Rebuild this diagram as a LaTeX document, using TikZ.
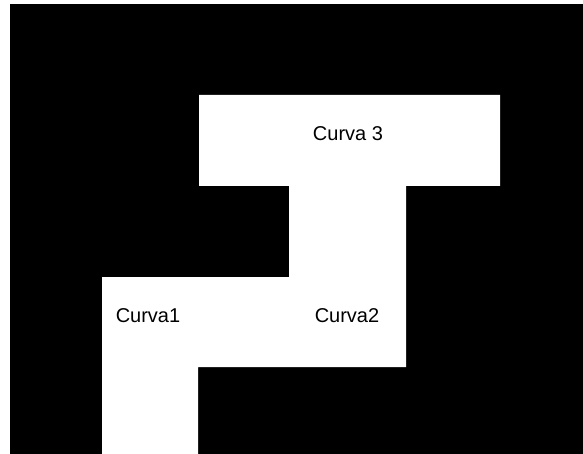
\documentclass[tikz,border=0pt]{standalone}
\usepackage{fontspec}
\setmainfont{Liberation Sans}
\usepackage{xcolor}
\usetikzlibrary{positioning, calc}

\begin{document}
\begin{tikzpicture}[x=0.5pt, y=-0.5pt,
    every node/.style={inner sep=0pt, font=\fontsize{10}{12}\selectfont}]
    \useasboundingbox (0,0) rectangle (583,454);
    % black ground
    \fill[black] (10,4) rectangle (583,454);
    % white path of the curves
    \fill[white] (199,95) -- (500,95) -- (500,186) -- (406,186) -- (406,367)
        -- (198,367) -- (198,454) -- (102,454) -- (102,277) -- (289,277)
        -- (289,186) -- (199,186) -- cycle;
    \node (c3) at (348,134) {Curva 3};
    \node (c1) at (148,316) {Curva1};
    \node (c2) at (347,316) {Curva2};
\end{tikzpicture}
\end{document}
